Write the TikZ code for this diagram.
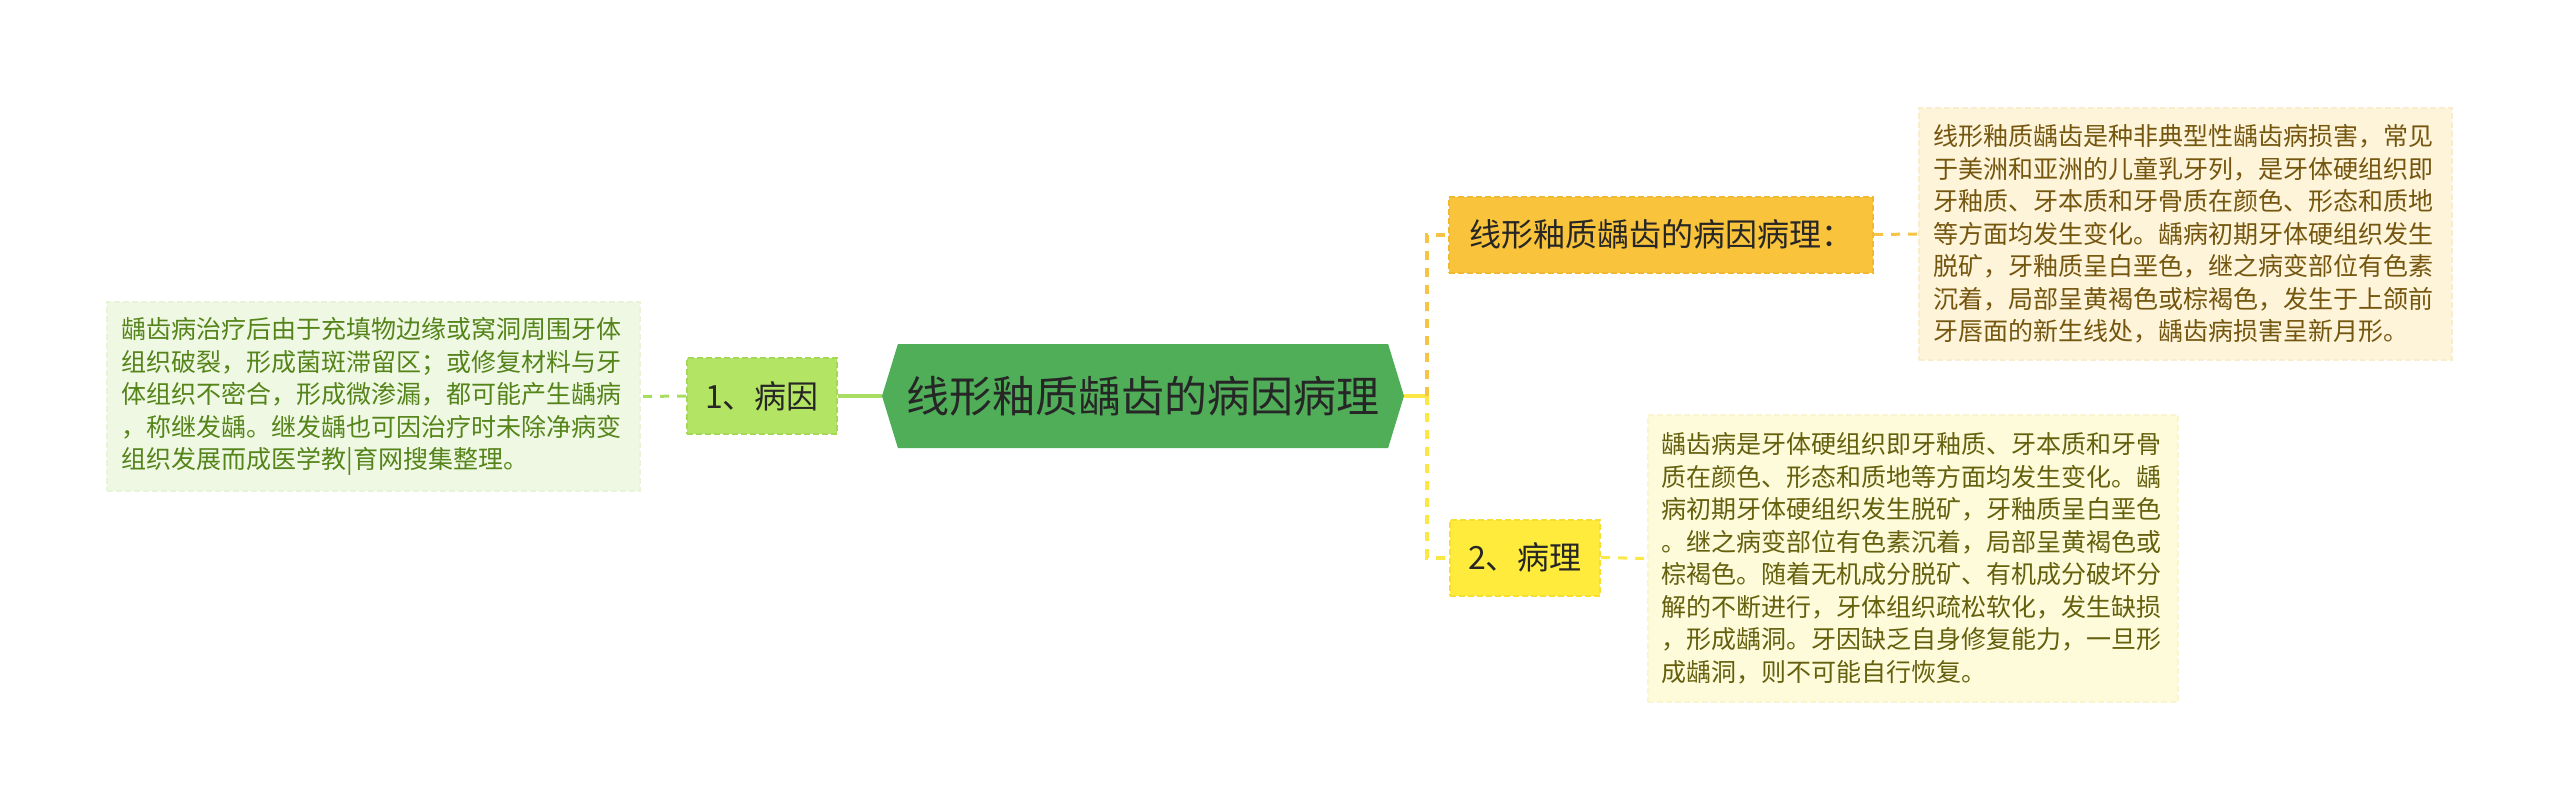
\documentclass[tikz,border=0pt]{standalone}
\usepackage{fontspec}
\setmainfont{Noto Sans CJK SC}
\usepackage{xcolor}
\usetikzlibrary{shapes.symbols,positioning}

\definecolor{rootgreen}{HTML}{50AE58}
\definecolor{darktext}{HTML}{262626}
\definecolor{leafgreen}{HTML}{A9DD62}
\definecolor{causefill}{HTML}{B4E463}
\definecolor{causeline}{HTML}{A6D858}
\definecolor{causenotefill}{HTML}{EFF8E3}
\definecolor{causenoteline}{HTML}{E8F3DA}
\definecolor{causenotetext}{HTML}{55841A}
\definecolor{busorange}{HTML}{F5C445}
\definecolor{originfill}{HTML}{F9C33B}
\definecolor{originline}{HTML}{F2B832}
\definecolor{originnotefill}{HTML}{FEF4DA}
\definecolor{originnoteline}{HTML}{FAEDCD}
\definecolor{originnotetext}{HTML}{74560F}
\definecolor{busyellow}{HTML}{FCE845}
\definecolor{pathofill}{HTML}{FFEB3B}
\definecolor{patholine}{HTML}{F6DF30}
\definecolor{pathonotefill}{HTML}{FEFBDA}
\definecolor{pathonoteline}{HTML}{F9F5CE}
\definecolor{pathonotetext}{HTML}{65600E}

\begin{document}
\begin{tikzpicture}[x=1pt,y=-1pt,
    root/.style={shape=signal, signal to=west and east, signal pointer angle=146,
      fill=rootgreen, minimum width=522pt, minimum height=104pt, inner sep=0pt,
      text=darktext, font=\fontsize{43}{50}\selectfont},
    branch/.style={draw, line width=2pt, dash pattern=on 6pt off 3pt,
      minimum height=76pt, inner sep=0pt, text=darktext,
      font=\fontsize{32}{38}\selectfont},
    note/.style={draw, line width=1.5pt, dash pattern=on 6pt off 3pt,
      inner sep=0pt, text width=504pt, align=left,
      font=\fontsize{25}{32.5}\selectfont},
    link/.style={line width=3pt, dash pattern=on 9pt off 8pt}]
  \useasboundingbox (0,0) rectangle (2560,809);

  % Center topic
  \node[root] (root) at (1143,396) {线形釉质龋齿的病因病理};

  % Left branch
  \node[branch, fill=causefill, draw=causeline, minimum width=150pt] (cause) at (762,396) {1、病因};
  \node[note, fill=causenotefill, draw=causenoteline, text=causenotetext,
    minimum width=533pt, minimum height=189pt] (causenote) at (373.5,396.5)
    {龋齿病治疗后由于充填物边缘或窝洞周围牙体\\
     组织破裂，形成菌斑滞留区；或修复材料与牙\\
     体组织不密合，形成微渗漏，都可能产生龋病\\
     ，称继发龋。继发龋也可因治疗时未除净病变\\
     组织发展而成医学教|育网搜集整理。};

  % Right branches
  \node[branch, fill=originfill, draw=originline, minimum width=424pt] (origin) at (1661,234.5) {线形釉质龋齿的病因病理：};
  \node[note, fill=originnotefill, draw=originnoteline, text=originnotetext,
    minimum width=533pt, minimum height=252pt] (originnote) at (2185.5,234)
    {线形釉质龋齿是种非典型性龋齿病损害，常见\\
     于美洲和亚洲的儿童乳牙列，是牙体硬组织即\\
     牙釉质、牙本质和牙骨质在颜色、形态和质地\\
     等方面均发生变化。龋病初期牙体硬组织发生\\
     脱矿，牙釉质呈白垩色，继之病变部位有色素\\
     沉着，局部呈黄褐色或棕褐色，发生于上颌前\\
     牙唇面的新生线处，龋齿病损害呈新月形。};

  \node[branch, fill=pathofill, draw=patholine, minimum width=150pt] (patho) at (1525,557.5) {2、病理};
  \node[note, fill=pathonotefill, draw=pathonoteline, text=pathonotetext,
    minimum width=530pt, minimum height=287pt] (pathonote) at (1913,558.5)
    {龋齿病是牙体硬组织即牙釉质、牙本质和牙骨\\
     质在颜色、形态和质地等方面均发生变化。龋\\
     病初期牙体硬组织发生脱矿，牙釉质呈白垩色\\
     。继之病变部位有色素沉着，局部呈黄褐色或\\
     棕褐色。随着无机成分脱矿、有机成分破坏分\\
     解的不断进行，牙体组织疏松软化，发生缺损\\
     ，形成龋洞。牙因缺乏自身修复能力，一旦形\\
     成龋洞，则不可能自行恢复。};

  % Connectors
  \draw[line width=4pt, leafgreen] (root.west) -- (cause.east);
  \draw[link, leafgreen] (cause.west) -- (causenote.east);

  \coordinate (hub) at (1427,396);
  \draw[line width=4pt, busyellow] (root.east) -- (hub);
  \draw[link, line width=4pt, busorange] (hub) |- (origin.west);
  \draw[link, line width=4pt, busyellow] (hub) |- (patho.west);
  \draw[link, busorange] (origin.east) -- (originnote.west);
  \draw[link, busyellow] (patho.east) -- (pathonote.west);
\end{tikzpicture}
\end{document}
